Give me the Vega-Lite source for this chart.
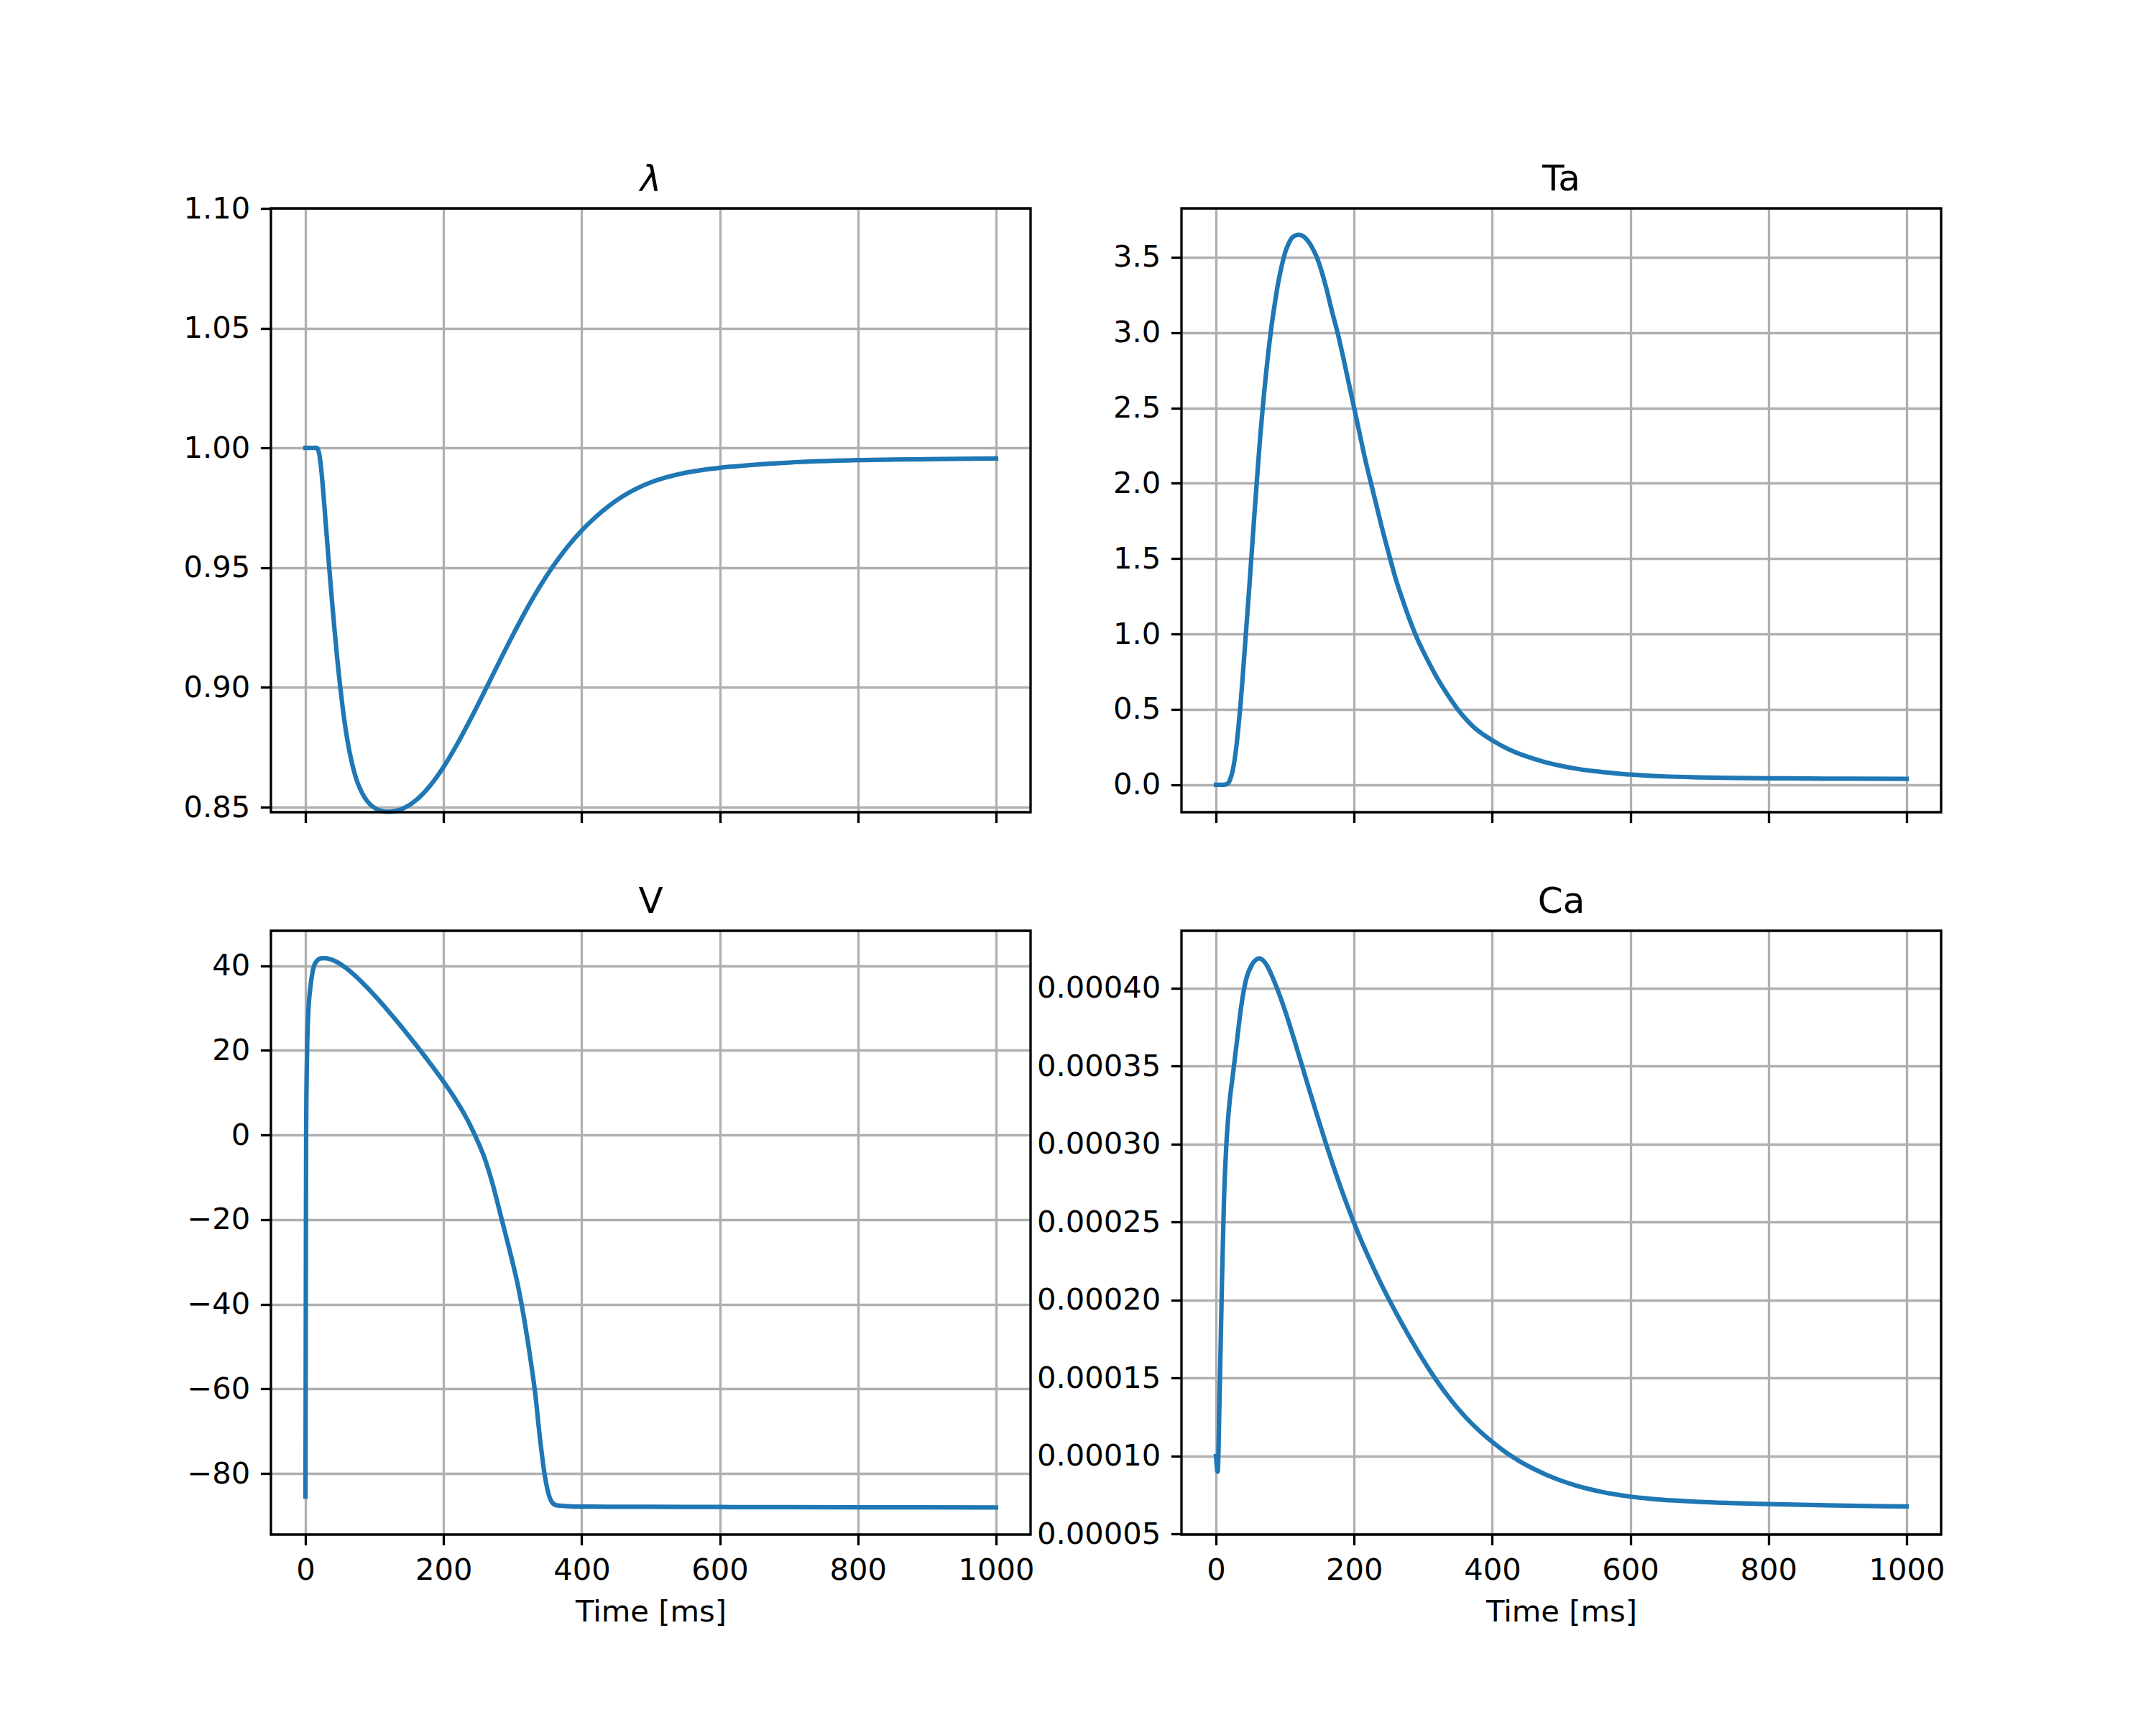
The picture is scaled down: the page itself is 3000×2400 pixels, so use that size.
{
  "$schema": "https://vega.github.io/schema/vega-lite/v6.json",
  "padding": {"left": 253, "top": 223, "right": 5, "bottom": 5},
  "background": "white",
  "datasets": {
    "lam": [
      {"t": 0, "v": 1.0}, {"t": 16, "v": 1.0}, {"t": 18, "v": 0.9994}, {"t": 20, "v": 0.9973}, {"t": 22, "v": 0.9933},
      {"t": 24, "v": 0.9876}, {"t": 26, "v": 0.9808}, {"t": 28, "v": 0.9735}, {"t": 30, "v": 0.9661}, {"t": 34, "v": 0.9515},
      {"t": 38, "v": 0.9375}, {"t": 42, "v": 0.9243}, {"t": 46, "v": 0.9121}, {"t": 50, "v": 0.9011}, {"t": 54, "v": 0.8913},
      {"t": 58, "v": 0.8829}, {"t": 62, "v": 0.8759}, {"t": 66, "v": 0.8701}, {"t": 70, "v": 0.8653}, {"t": 75, "v": 0.8606},
      {"t": 80, "v": 0.8571}, {"t": 90, "v": 0.8523}, {"t": 100, "v": 0.8497}, {"t": 110, "v": 0.8484}, {"t": 120, "v": 0.8481},
      {"t": 140, "v": 0.8493}, {"t": 160, "v": 0.8529}, {"t": 180, "v": 0.8588}, {"t": 200, "v": 0.8668}, {"t": 220, "v": 0.8765},
      {"t": 240, "v": 0.8873}, {"t": 260, "v": 0.8987}, {"t": 280, "v": 0.9103}, {"t": 300, "v": 0.9217}, {"t": 320, "v": 0.9325},
      {"t": 340, "v": 0.9424}, {"t": 360, "v": 0.9512}, {"t": 380, "v": 0.9589}, {"t": 400, "v": 0.9655}, {"t": 420, "v": 0.9711},
      {"t": 440, "v": 0.9759}, {"t": 460, "v": 0.9799}, {"t": 480, "v": 0.9831}, {"t": 500, "v": 0.9856}, {"t": 520, "v": 0.9875},
      {"t": 540, "v": 0.989}, {"t": 560, "v": 0.9901}, {"t": 580, "v": 0.991}, {"t": 600, "v": 0.9917}, {"t": 650, "v": 0.993},
      {"t": 700, "v": 0.9939}, {"t": 800, "v": 0.9949}, {"t": 900, "v": 0.9953}, {"t": 1000, "v": 0.9956}
    ],
    "ta": [
      {"t": 0, "v": 0}, {"t": 10, "v": 0}, {"t": 16, "v": 0.005}, {"t": 20, "v": 0.03}, {"t": 24, "v": 0.09},
      {"t": 28, "v": 0.2}, {"t": 32, "v": 0.36}, {"t": 36, "v": 0.56}, {"t": 40, "v": 0.8}, {"t": 44, "v": 1.05},
      {"t": 48, "v": 1.3}, {"t": 52, "v": 1.56}, {"t": 56, "v": 1.82}, {"t": 60, "v": 2.07}, {"t": 64, "v": 2.31},
      {"t": 68, "v": 2.52}, {"t": 72, "v": 2.71}, {"t": 76, "v": 2.88}, {"t": 80, "v": 3.03}, {"t": 85, "v": 3.19},
      {"t": 90, "v": 3.33}, {"t": 95, "v": 3.44}, {"t": 100, "v": 3.53}, {"t": 105, "v": 3.59}, {"t": 110, "v": 3.63},
      {"t": 115, "v": 3.645}, {"t": 120, "v": 3.65}, {"t": 125, "v": 3.643}, {"t": 130, "v": 3.625}, {"t": 136, "v": 3.59},
      {"t": 142, "v": 3.54}, {"t": 146, "v": 3.5}, {"t": 152, "v": 3.42}, {"t": 160, "v": 3.29}, {"t": 168, "v": 3.14},
      {"t": 176, "v": 3.0}, {"t": 184, "v": 2.84}, {"t": 192, "v": 2.67}, {"t": 200, "v": 2.5}, {"t": 208, "v": 2.33},
      {"t": 216, "v": 2.16}, {"t": 225, "v": 1.99}, {"t": 232, "v": 1.86}, {"t": 240, "v": 1.71}, {"t": 251, "v": 1.52},
      {"t": 260, "v": 1.37}, {"t": 270, "v": 1.23}, {"t": 280, "v": 1.1}, {"t": 289, "v": 0.995}, {"t": 300, "v": 0.885},
      {"t": 310, "v": 0.795}, {"t": 320, "v": 0.71}, {"t": 330, "v": 0.635}, {"t": 340, "v": 0.565}, {"t": 350, "v": 0.5},
      {"t": 362, "v": 0.435}, {"t": 375, "v": 0.375}, {"t": 388, "v": 0.33}, {"t": 400, "v": 0.295}, {"t": 415, "v": 0.255},
      {"t": 430, "v": 0.222}, {"t": 450, "v": 0.187}, {"t": 475, "v": 0.152}, {"t": 500, "v": 0.125}, {"t": 525, "v": 0.104},
      {"t": 550, "v": 0.089}, {"t": 575, "v": 0.077}, {"t": 600, "v": 0.067}, {"t": 650, "v": 0.055}, {"t": 700, "v": 0.049},
      {"t": 750, "v": 0.045}, {"t": 800, "v": 0.043}, {"t": 900, "v": 0.04}, {"t": 1000, "v": 0.039}
    ],
    "vm": [
      {"t": 0, "v": -85.4}, {"t": 0.3, "v": -60}, {"t": 0.6, "v": -30}, {"t": 1, "v": 1.9}, {"t": 2.4, "v": 20.1},
      {"t": 4.2, "v": 29.2}, {"t": 6.9, "v": 34.6}, {"t": 10.4, "v": 38.7}, {"t": 15.6, "v": 41}, {"t": 22.5, "v": 41.75},
      {"t": 28, "v": 41.8}, {"t": 35, "v": 41.6}, {"t": 45, "v": 40.95}, {"t": 60, "v": 39.3}, {"t": 80, "v": 36.4},
      {"t": 100, "v": 33.0}, {"t": 120, "v": 29.3}, {"t": 140, "v": 25.4}, {"t": 160, "v": 21.3}, {"t": 180, "v": 17.05},
      {"t": 200, "v": 12.6}, {"t": 215, "v": 9.0}, {"t": 230, "v": 4.95}, {"t": 240, "v": 1.85}, {"t": 250, "v": -1.7},
      {"t": 260, "v": -5.75}, {"t": 270, "v": -11.0}, {"t": 284.3, "v": -20}, {"t": 296, "v": -27.5}, {"t": 308.6, "v": -36.3},
      {"t": 316, "v": -42.8}, {"t": 325.5, "v": -52.6}, {"t": 332.5, "v": -60.8}, {"t": 339, "v": -70.8}, {"t": 346, "v": -79.9},
      {"t": 351.5, "v": -84.5}, {"t": 356.7, "v": -86.7}, {"t": 363.6, "v": -87.5}, {"t": 380, "v": -87.7}, {"t": 400, "v": -87.8},
      {"t": 500, "v": -87.85}, {"t": 600, "v": -87.9}, {"t": 800, "v": -87.95}, {"t": 1000, "v": -88}
    ],
    "ca": [
      {"t": 0, "v": 0.0001}, {"t": 2.4, "v": 0.00009}, {"t": 5.2, "v": 0.000139}, {"t": 8.7, "v": 0.000213}, {"t": 11.4, "v": 0.000262},
      {"t": 14.9, "v": 0.000299}, {"t": 19, "v": 0.000324}, {"t": 24.3, "v": 0.000344}, {"t": 29.5, "v": 0.000363}, {"t": 36.4, "v": 0.000388},
      {"t": 43.3, "v": 0.000405}, {"t": 52, "v": 0.000415}, {"t": 57, "v": 0.0004178}, {"t": 62.4, "v": 0.000419}, {"t": 68, "v": 0.0004178},
      {"t": 75, "v": 0.0004135}, {"t": 81, "v": 0.0004078}, {"t": 88, "v": 0.0004002},
      {"t": 100, "v": 0.0003855}, {"t": 115, "v": 0.0003643}, {"t": 130, "v": 0.0003422}, {"t": 145, "v": 0.0003203}, {"t": 160, "v": 0.0002991},
      {"t": 175, "v": 0.0002792}, {"t": 190, "v": 0.0002607}, {"t": 205, "v": 0.0002438}, {"t": 220, "v": 0.0002283}, {"t": 240, "v": 0.0002095},
      {"t": 260, "v": 0.0001924}, {"t": 280, "v": 0.0001765}, {"t": 300, "v": 0.0001616}, {"t": 320, "v": 0.000148}, {"t": 340, "v": 0.000136},
      {"t": 360, "v": 0.0001256}, {"t": 380, "v": 0.0001167}, {"t": 400, "v": 0.00010905}, {"t": 420, "v": 0.0001023},
      {"t": 440, "v": 0.0000966}, {"t": 460, "v": 0.0000918}, {"t": 480, "v": 0.0000877}, {"t": 500, "v": 0.0000842},
      {"t": 520, "v": 0.0000813}, {"t": 540, "v": 0.0000789}, {"t": 560, "v": 0.0000769}, {"t": 580, "v": 0.0000753},
      {"t": 600, "v": 0.000074}, {"t": 630, "v": 0.0000726}, {"t": 664, "v": 0.0000715}, {"t": 700, "v": 0.0000706},
      {"t": 743, "v": 0.0000699}, {"t": 800, "v": 0.0000692}, {"t": 900, "v": 0.0000683}, {"t": 1000, "v": 0.0000677}
    ]
  },
  "columns": 2,
  "align": "each",
  "spacing": {"row": 80, "column": -1},
  "concat": [
    {
      "title": {"text": "λ", "fontStyle": "italic", "offset": -6},
      "width": 1057, "height": 840,
      "data": {"name": "lam"},
      "mark": {"type": "line", "color": "#1f77b4", "strokeWidth": 6.25, "strokeCap": "square", "strokeJoin": "round", "interpolate": "monotone"},
      "encoding": {
        "x": {"field": "t", "type": "quantitative", "scale": {"domain": [-50, 1050], "nice": false, "zero": false},
              "axis": {"values": [0, 200, 400, 600, 800, 1000], "labels": false, "title": null}},
        "y": {"field": "v", "type": "quantitative", "scale": {"domain": [0.8479, 1.1], "nice": false, "zero": false},
              "axis": {"values": [0.85, 0.9, 0.95, 1.0, 1.05, 1.1], "format": ".2f", "title": null}}
      }
    },
    {
      "title": "Ta",
      "width": 1057, "height": 840,
      "data": {"name": "ta"},
      "mark": {"type": "line", "color": "#1f77b4", "strokeWidth": 6.25, "strokeCap": "square", "strokeJoin": "round", "interpolate": "monotone"},
      "encoding": {
        "x": {"field": "t", "type": "quantitative", "scale": {"domain": [-50, 1050], "nice": false, "zero": false},
              "axis": {"values": [0, 200, 400, 600, 800, 1000], "labels": false, "title": null}},
        "y": {"field": "v", "type": "quantitative", "scale": {"domain": [-0.1823, 3.8243], "nice": false, "zero": false},
              "axis": {"values": [0, 0.5, 1, 1.5, 2, 2.5, 3, 3.5], "format": ".1f", "title": null}}
      }
    },
    {
      "title": "V",
      "width": 1057, "height": 840,
      "data": {"name": "vm"},
      "mark": {"type": "line", "color": "#1f77b4", "strokeWidth": 6.25, "strokeCap": "square", "strokeJoin": "round", "interpolate": "monotone"},
      "encoding": {
        "x": {"field": "t", "type": "quantitative", "scale": {"domain": [-50, 1050], "nice": false, "zero": false},
              "axis": {"values": [0, 200, 400, 600, 800, 1000], "format": "d", "title": "Time [ms]"}},
        "y": {"field": "v", "type": "quantitative", "scale": {"domain": [-94.4, 48.27], "nice": false, "zero": false},
              "axis": {"values": [-80, -60, -40, -20, 0, 20, 40], "format": "d", "title": null}}
      }
    },
    {
      "title": "Ca",
      "width": 1057, "height": 840,
      "data": {"name": "ca"},
      "mark": {"type": "line", "color": "#1f77b4", "strokeWidth": 6.25, "strokeCap": "square", "strokeJoin": "round", "interpolate": "monotone"},
      "encoding": {
        "x": {"field": "t", "type": "quantitative", "scale": {"domain": [-50, 1050], "nice": false, "zero": false},
              "axis": {"values": [0, 200, 400, 600, 800, 1000], "format": "d", "title": "Time [ms]"}},
        "y": {"field": "v", "type": "quantitative", "scale": {"domain": [0.0000497, 0.0004367], "nice": false, "zero": false},
              "axis": {"values": [0.00005, 0.0001, 0.00015, 0.0002, 0.00025, 0.0003, 0.00035, 0.0004], "format": ".5f", "title": null}}
      }
    }
  ],
  "config": {
    "font": "DejaVu Sans",
    "view": {"stroke": "black", "strokeWidth": 3.33},
    "style": {"cell": {"strokeForeground": true}},
    "axis": {
      "domain": false, "grid": true, "gridColor": "#b0b0b0", "gridWidth": 3.33,
      "ticks": true, "tickColor": "black", "tickSize": 14.6, "tickWidth": 3.33,
      "labelFont": "DejaVu Sans", "labelFontSize": 41.67, "labelColor": "black", "labelPadding": 14.6,
      "labelFlush": false, "labelOverlap": false,
      "titleFont": "DejaVu Sans", "titleFontSize": 41.67, "titleFontWeight": "normal", "titleColor": "black", "titlePadding": 16.7
    },
    "title": {"font": "DejaVu Sans", "fontSize": 50, "fontWeight": "normal", "color": "black", "offset": 15, "baseline": "alphabetic", "anchor": "middle"}
  }
}
